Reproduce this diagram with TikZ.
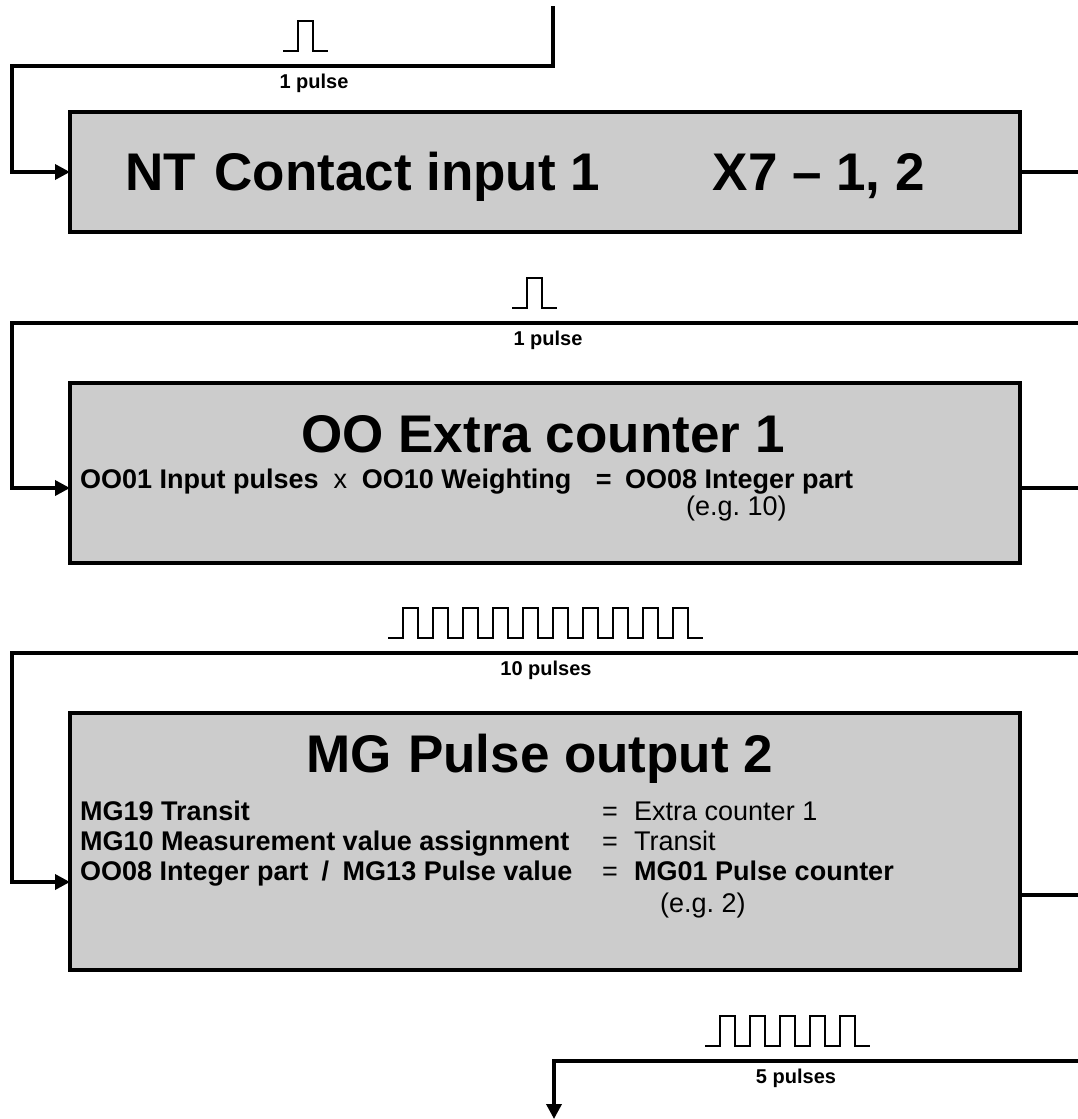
\documentclass[tikz,border=0pt]{standalone}
\usepackage{fontspec}
\setmainfont{Liberation Sans}
\usetikzlibrary{arrows.meta}
\definecolor{boxgray}{RGB}{204,204,204}
\tikzset{
  conn/.style={line width=3.5pt, line join=miter},
  arr/.style={conn, -{Triangle[length=15pt,width=15pt]}},
  blockbox/.style={draw, fill=boxgray, line width=4pt, anchor=north west, inner sep=0pt, outer sep=0pt},
  pulsewave/.style={line width=2.6pt},
  titletext/.style={font=\bfseries\fontsize{53}{60}\selectfont, inner sep=0pt, anchor=base},
  bodytext/.style={font=\frenchspacing\fontsize{27}{30}\selectfont, inner sep=0pt, anchor=base west},
  bodybold/.style={bodytext, font=\frenchspacing\bfseries\fontsize{27}{30}\selectfont},
  lbl/.style={font=\bfseries\fontsize{20}{24}\selectfont, inner sep=0pt, anchor=base},
}
\newcommand\pulsetrain[3]{%
  \draw[pulsewave] (#1,#2) -- ++(15,0)
    \foreach \k in {1,...,#3}{ -- ++(0,-30) -- ++(15,0) -- ++(0,30) -- ++(15,0)};}
\begin{document}
\begin{tikzpicture}[x=1pt,y=-1pt]
\useasboundingbox (0,0) rectangle (1078,1119);

% boxes
\node[blockbox, minimum width=950pt, minimum height=120pt] (b1) at (70,112) {};
\node[blockbox, minimum width=950pt, minimum height=180pt] (b2) at (70,383) {};
\node[blockbox, minimum width=950pt, minimum height=257pt] (b3) at (70,713) {};

% box 1 text
\node[titletext, anchor=base west] (t1a) at (125,190) {NT\hspace{0.35em}Contact input 1};
\node[titletext, anchor=base east] (t1b) at (925,190) {X7 – 1, 2};

% box 2 text
\node[titletext] (t2) at (543,452) {OO Extra counter 1};
\node[bodytext] (l2a) at (80,488) {\textbf{OO01 Input pulses}\hspace{0.55em}x\hspace{0.55em}\textbf{OO10 Weighting}\hspace{0.9em}\textbf{=}\hspace{0.5em}\textbf{OO08 Integer part}};
\node[bodytext] (l2b) at (686,515) {(e.g. 10)};

% box 3 text
\node[titletext] (t3) at (540,772) {MG\hspace{0.3em}Pulse output 2};
\node[bodybold] (l3a) at (80,820) {MG19 Transit};
\node[bodybold] (l3b) at (80,850) {MG10 Measurement value assignment};
\node[bodybold] (l3c) at (80,880) {OO08 Integer part\hspace{0.5em}/\hspace{0.5em}MG13 Pulse value};
\node[bodytext, anchor=base] (e3a) at (610,820) {=};
\node[bodytext, anchor=base] (e3b) at (610,850) {=};
\node[bodytext, anchor=base] (e3c) at (610,880) {=};
\node[bodytext] (r3a) at (634,820) {Extra counter 1};
\node[bodytext] (r3b) at (634,850) {Transit};
\node[bodybold] (r3c) at (634,880) {MG01 Pulse counter};
\node[bodytext] (r3d) at (660,912) {(e.g. 2)};

% connectors
\coordinate (in1) at (553,6);
\coordinate (c1a) at (553,66);
\coordinate (c1b) at (12,66);
\coordinate (e1) at (70,172);
\draw[arr] (in1) -- (c1a) -- (c1b) |- (e1);
\coordinate (o1) at (1078,172);
\draw[conn] (b1.east |- o1) -- (o1);

\coordinate (s2) at (1078,323);
\coordinate (c2) at (12,323);
\coordinate (e2) at (70,488);
\draw[arr] (s2) -- (c2) |- (e2);
\coordinate (o2) at (1078,488);
\draw[conn] (b2.east |- o2) -- (o2);

\coordinate (s3) at (1078,653);
\coordinate (c3) at (12,653);
\coordinate (e3) at (70,882);
\draw[arr] (s3) -- (c3) |- (e3);
\coordinate (o3) at (1078,895);
\draw[conn] (b3.east |- o3) -- (o3);

\coordinate (s4) at (1078,1061);
\coordinate (c4) at (554,1061);
\coordinate (e4) at (554,1119);
\draw[arr] (s4) -- (c4) -- (e4);

% pulses and labels
\pulsetrain{283}{51}{1}
\node[lbl] (p1) at (314,88) {1 pulse};
\pulsetrain{512}{308}{1}
\node[lbl] (p2) at (548,345) {1 pulse};
\pulsetrain{388}{638}{10}
\node[lbl] (p3) at (546,675) {10 pulses};
\pulsetrain{705}{1046}{5}
\node[lbl] (p4) at (796,1083) {5 pulses};
\end{tikzpicture}
\end{document}
